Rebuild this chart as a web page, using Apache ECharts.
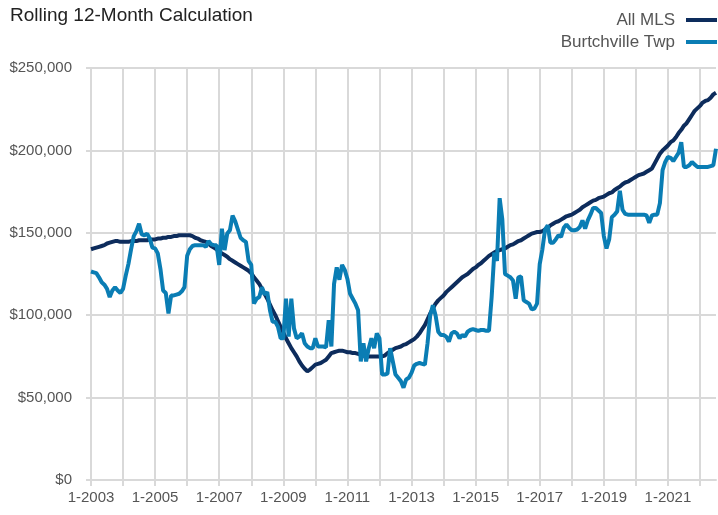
<!DOCTYPE html>
<html><head><meta charset="utf-8">
<script src="https://cdn.jsdelivr.net/npm/echarts@6/dist/echarts.min.js"></script>
<style>html,body{margin:0;padding:0;background:#fff}#c{width:718px;height:515px}</style>
</head><body><div id="c"></div>
<script>
// Monthly categories from 1-2003 to 7-2022
const startYear = 2003;
const monthCount = 235;
const categories = [];
for (let i = 0; i < monthCount; i++) {
  categories.push(((i % 12) + 1) + '-' + (startYear + Math.floor(i / 12)));
}
const seriesNames = ['All MLS', 'Burtchville Twp'];
// values in thousands of dollars
const allMLS = [
140,140.5,141,141.5,142,142.5,143.5,144,144.5,145,
145,144.5,144.5,144.5,144.5,145,145,145,145.5,145.5,
145.5,145.5,146,146,146,146.5,146.5,147,147,147.5,
147.5,148,148,148.5,148.5,148.5,148.5,148.5,148,147,
146.5,145.5,145,144.5,143.5,142,141,140,138.5,137.5,
136.5,135.5,134,133,132,131,130,129,128,127,
125.5,123,121,119,116,113,110,106.5,103,100,
96.5,93,89.5,86,83,80,77.5,75,72,69.5,
67.5,66,67,68.5,70,70.5,71,72,73,75,
77,77.5,78,78.5,78.5,78,77.5,77.5,77,77,
76.5,76,75.5,75,75,75,75,75,75,75,
75.5,77,78,79,80,80.5,81,82,82.5,83.5,
84.5,85.5,87,89,91.5,94,97.5,101,104,107,
109,110.5,112,114,115.5,117,118.5,120,121.5,123,
124,125,126.5,128,129,130.5,131.5,133,134.5,136,
137,138,139,139.5,140,140.5,141.5,142.5,143,144,
145,145.5,146.5,147.5,148.5,149.5,150,150.5,150.5,151,
152,153,154.5,155.5,156.5,157,158,159,160,160.5,
161,162,163,164,165.5,166.5,167.5,168.5,169.5,170,
171,171.5,172,173,174,174.5,176,177,178,179.5,
180.5,181,182,183,184,185,185.5,186,187,188,
189,192,195,198,200,201.5,203,205,206,208,
210.5,212.5,215,216.5,219,221.5,224,225.5,227,229,
230,230.5,232,234,235
];
const burtchville = [
126.5,126,125.5,123,120,118.5,116,111,115,117,
115,113.5,116,124,131,140,148,151,155.5,149,
148.5,149.5,146.5,141,140.5,137.5,128,115,113.5,101,
112,112,112.5,113,114.5,117,136,140,142,142.5,
142.5,142.5,142.5,141.5,145,143,142.5,142.5,130.5,152.5,
139.5,149.5,151.5,160.5,157,152,147,145.5,144.5,133,
130.5,107,110,111,117,112.5,114,103,96,96,
93,86,86,110,87,110,92,86,87,89,
83,81,80,80,86,81,81,81,80.5,97,
81,119,129,121.5,130.5,127.5,122,113,110,107,
103,72,83,72,80,86,80,89,86,64,
64,64.5,80,72,64,62,60,56,61,62,
65,69.5,70.5,71,70.5,70,83,100,106,100,
90,88,88,87,84,89,90,89,86,88,
87,90,91,91.5,91,90.5,91,91,90.5,90.5,
111,138,133,171,158,125,124,123,121,110,
123,123.5,109,108,107,103.5,104,107,131,140,
152,154.5,144,144,146,148.5,147.5,153,155,153,
151.5,151.5,152,153.5,157.5,152.5,157.5,161,165,165,
163.5,162,148,140.5,146,159.5,161,163,175.5,164,
161.5,161,161,161,161,161,161,161,160.5,156,
160.5,161,161,168,188,193,196,195.5,193.5,196,
198.5,205,190,190,191,193,191.5,190,190,190,
190,190,190.5,191,201
];
const yMin = 0, yMax = 250000, yStep = 50000;

const FONT = "'Liberation Sans', Arial, sans-serif";
const GRID = '#d9d9d9';
const chart = echarts.init(document.getElementById('c'), null, {renderer: 'canvas'});
chart.setOption({
  animation: false,
  backgroundColor: '#fff',
  textStyle: {fontFamily: FONT},
  title: {
    text: 'Rolling 12-Month Calculation', left: 5, top: 1,
    textStyle: {fontSize: 19, fontWeight: 'normal', color: '#222', fontFamily: FONT}
  },
  legend: {
    orient: 'vertical', right: 1, top: 11, align: 'right', padding: 0,
    icon: 'rect', itemWidth: 31, itemHeight: 4, itemGap: 4,
    data: seriesNames,
    textStyle: {fontSize: 17, color: '#555', lineHeight: 18, padding: [0, 6, 0, 0], fontFamily: FONT}
  },
  grid: {left: 91, right: 2, top: 68, bottom: 35, containLabel: false},
  xAxis: {
    type: 'category', data: categories, boundaryGap: false,
    axisLine: {lineStyle: {color: GRID, width: 2}},
    axisTick: {show: true, interval: (i) => i % 12 === 0, length: 6, lineStyle: {color: GRID, width: 2}},
    axisLabel: {interval: (i) => i % 24 === 0, color: '#555', fontSize: 15, margin: 10, fontFamily: FONT},
    splitLine: {show: true, interval: (i) => i % 12 === 0, lineStyle: {color: GRID, width: 2}}
  },
  yAxis: {
    type: 'value', min: yMin, max: yMax, interval: yStep,
    axisLine: {show: true, lineStyle: {color: GRID, width: 2}},
    axisTick: {show: true, length: 5, lineStyle: {color: GRID, width: 2}},
    axisLabel: {formatter: (v) => '$' + v.toLocaleString('en-US'), color: '#555', fontSize: 15, margin: 19, fontFamily: FONT},
    splitLine: {show: true, lineStyle: {color: GRID, width: 2}}
  },
  series: [
    {name: seriesNames[0], type: 'line', data: allMLS.map(v => v * 1000), showSymbol: false,
     lineStyle: {color: '#0d2c5c', width: 4}, itemStyle: {color: '#0d2c5c'}},
    {name: seriesNames[1], type: 'line', data: burtchville.map(v => v * 1000), showSymbol: false,
     lineStyle: {color: '#0a7db4', width: 4}, itemStyle: {color: '#0a7db4'}}
  ]
});
</script></body></html>
